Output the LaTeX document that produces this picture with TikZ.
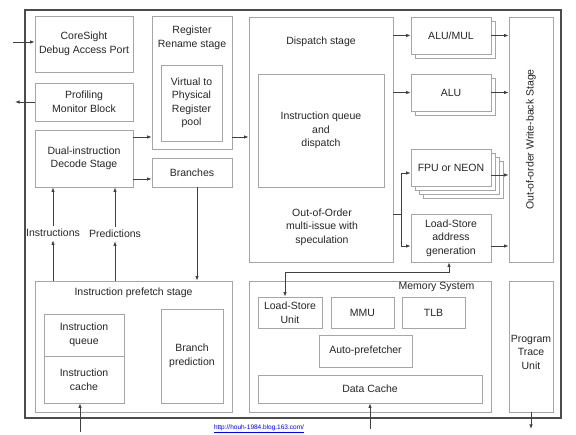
\documentclass[tikz,border=0pt]{standalone}
\usepackage{fontspec}
\setmainfont{Liberation Sans}
\usetikzlibrary{arrows.meta,shadows,positioning,calc}

\begin{document}
\begin{tikzpicture}[x=1pt, y=-1pt
        , font=\fontsize{10.5}{13.5}\selectfont
        , every node/.style={ text=black!85, align=center }
        , blk/.style={ draw=black!35, line width=.8pt, fill=white, inner sep=0pt }
        , stack/.style={ blk, copy shadow={shadow xshift=4pt, shadow yshift=-4pt, draw=black!35, fill=white} }
        , arr/.style={ -{Latex[length=4.5pt,width=3.5pt]}, draw=black!75, line width=.8pt }
        , dblarr/.style={ {Latex[length=4.5pt,width=3.5pt]}-{Latex[length=4.5pt,width=3.5pt]}, draw=black!75, line width=.8pt }
        ]

        \useasboundingbox (0,0) rectangle (576,435);
        \draw[draw=black!70, line width=1.1pt] (25,10) rectangle (561,418);

        % front end
        \node[blk, minimum width=98, minimum height=56] (csight) at (84,44) {CoreSight\\Debug Access Port};
        \node[blk, minimum width=98, minimum height=38] (prof) at (84,102) {Profiling\\Monitor Block};
        \node[blk, minimum width=98, minimum height=57] (decode) at (84,158.5) {Dual-instruction\\Decode Stage};

        \node[blk, minimum width=80, minimum height=133] (rename) at (192,82.5) {};
        \node (renamet) at (192,38) {Register\\Rename stage};
        \node[blk, minimum width=61, minimum height=76] (vpool) at (191.5,103) {Virtual to\\Physical\\Register\\pool};
        \node[blk, minimum width=80, minimum height=29] (branches) at (192,172.5) {Branches};

        % dispatch
        \node[blk, minimum width=144, minimum height=245] (dispatch) at (321,139.5) {};
        \node (dispatcht) at (321,42) {Dispatch stage};
        \node[blk, minimum width=126, minimum height=113] (iqd) at (321,130.5) {Instruction queue\\and\\dispatch};
        \node (ooo) at (322,227) {Out-of-Order\\multi-issue with\\speculation};

        % execution units
        \node[stack, minimum width=80, minimum height=37] (alumul) at (451,35.5) {ALU/MUL};
        \node[stack, minimum width=80, minimum height=37] (alu) at (451,92.5) {ALU};
        \node[blk, minimum width=80, minimum height=37
            , copy shadow={shadow xshift=12pt, shadow yshift=-12pt, draw=black!35, fill=white}
            , copy shadow={shadow xshift=8pt, shadow yshift=-8pt, draw=black!35, fill=white}
            , copy shadow={shadow xshift=4pt, shadow yshift=-4pt, draw=black!35, fill=white}
            ] (fpu) at (451,167.5) {FPU or NEON};
        \node[blk, minimum width=80, minimum height=48] (lsag) at (451,238) {Load-Store\\address\\generation};

        \node[blk, minimum width=44, minimum height=245] (wb) at (531,139.5) {};
        \node[rotate=90] (wbt) at (531,139.5) {Out-of-order Write-back Stage};
        \node[blk, minimum width=44, minimum height=131] (ptu) at (531,346.5) {};
        \node (ptut) at (531,352) {Program\\Trace\\Unit};

        % memory system
        \node[blk, minimum width=242, minimum height=131] (memsys) at (370,346.5) {};
        \node (memsyst) at (436.5,287) {Memory System};
        \node[blk, minimum width=64, minimum height=31] (lsu) at (290,312.5) {Load-Store\\Unit};
        \node[blk, minimum width=63, minimum height=31] (mmu) at (362.5,312.5) {MMU};
        \node[blk, minimum width=63, minimum height=31] (tlb) at (433.5,312.5) {TLB};
        \node[blk, minimum width=93, minimum height=32] (autopf) at (365.5,351) {Auto-prefetcher};
        \node[blk, minimum width=224, minimum height=28] (dcache) at (370,389) {Data Cache};

        % prefetch
        \node[blk, minimum width=197, minimum height=131] (prefetch) at (133.5,346.5) {};
        \node (prefetcht) at (133.5,293) {Instruction prefetch stage};
        \node[blk, minimum width=80, minimum height=42] (iq) at (84,335) {Instruction\\queue};
        \node[blk, minimum width=80, minimum height=47] (ic) at (84,379.5) {Instruction\\cache};
        \node[blk, minimum width=62, minimum height=94] (bp) at (192,356) {Branch\\prediction};

        \node (instr) at (53,233) {Instructions};
        \node (pred) at (115,234) {Predictions};

        \node[font=\fontsize{6.5}{7}\selectfont, text=blue] (url) at (259,429) {\underline{http://houh-1984.blog.163.com/}};

        % free ends
        \coordinate (dbgin) at (13,42);
        \coordinate (profout) at (15,102);
        \coordinate (icin) at (80,432);
        \coordinate (dcin) at (370,429);
        \coordinate (ptuout) at (531,429);
        \coordinate (split) at (401,214);

        \draw[arr] (dbgin) -- (csight.west |- dbgin);
        \draw[arr] (prof.west) -- (profout);
        \draw[arr] (icin) -- (ic.south -| icin);
        \draw[arr] (dcin) -- (dcache.south);
        \draw[arr] (ptu.south) -- (ptuout);

        \draw[arr] (decode.east |- 0,137) -- (rename.west |- 0,137);
        \draw[arr] (decode.east |- 0,179) -- (branches.west |- 0,179);
        \draw[arr] (rename.east |- 0,137) -- (dispatch.west |- 0,137);
        \draw[arr] (branches.south -| 197,0) -- (prefetch.north -| 197,0);

        \draw[arr] (prefetch.north -| instr) -- (instr.south);
        \draw[arr] (instr.north) -- (decode.south -| instr);
        \draw[arr] (prefetch.north -| pred) -- (pred.south);
        \draw[arr] (pred.north) -- (decode.south -| pred);

        \draw[arr] (dispatch.east |- alumul) -- (alumul.west);
        \draw[arr] (dispatch.east |- alu) -- (alu.west);
        \draw[draw=black!75, line width=.8pt] (dispatch.east |- split) -- (split);
        \draw[arr] (split) |- (fpu.west |- 0,173);
        \draw[arr] (split) |- (lsag.west |- 0,246);

        \draw[arr] (alumul.east) -- (wb.west |- alumul);
        \draw[arr] (alu.east) -- (wb.west |- alu);
        \draw[arr] (fpu.east |- 0,175) -- (wb.west |- 0,175);
        \draw[arr] (lsag.east |- 0,246) -- (wb.west |- 0,246);

        \draw[dblarr] (lsag.south -| 449,0) -- (449,272) -| (lsu.north -| 285,0);

    \end{tikzpicture}
\end{document}
